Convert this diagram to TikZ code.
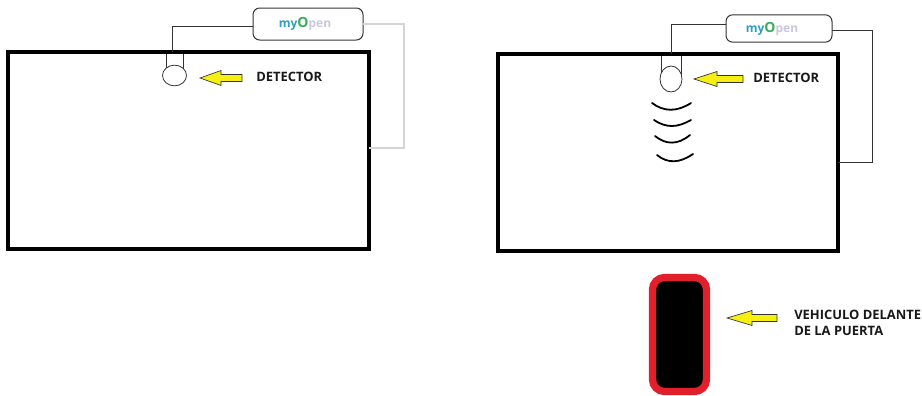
\documentclass[tikz,border=0pt]{standalone}
\usepackage{fontspec}
\setmainfont{Open Sans}
\usetikzlibrary{shapes.geometric,calc}
\definecolor{myteal}{HTML}{2E9FC0}
\definecolor{mygreen}{HTML}{3DAA5C}
\definecolor{mylav}{HTML}{C9C8E0}
\definecolor{wiregrey}{HTML}{D4D4D4}
\definecolor{thinblack}{HTML}{333333}
\definecolor{carred}{HTML}{E2202C}
\definecolor{arrowyellow}{HTML}{F7EE12}
\tikzset{
  px/.style={x=0.75pt,y=-0.75pt},
  room/.style={draw=black,line width=3pt,fill=white,inner sep=0pt,outer sep=0pt},
  ctrl/.style={draw=thinblack,line width=0.75pt,rounded corners=5pt,inner sep=0pt,outer sep=0pt,minimum height=24pt,fill=white},
  brand/.style={font=\bfseries\fontsize{9pt}{10pt}\selectfont},
  wire/.style={draw=thinblack,line width=0.75pt},
  greywire/.style={draw=wiregrey,line width=0.9pt},
  sensor/.style={ellipse,draw=thinblack,line width=0.6pt,fill=white,inner sep=0pt,outer sep=0pt},
  pointer/.style={draw=thinblack,line width=0.5pt,fill=arrowyellow},
  lab/.style={font=\bfseries\fontsize{9.7pt}{12pt}\selectfont,inner sep=0pt,anchor=west,align=left,text=black!90},
  wave/.style={draw=black,line width=1.35pt,line cap=round}
}
\newcommand{\myopen}{{\color{myteal}my}{\color{mygreen}\fontsize{10.5pt}{10pt}\selectfont O}{\color{mylav}pen}}
% tip x, neck x, tail x, y
\newcommand{\yarrow}[4]{\draw[pointer] (#1,#4) -- (#2,#4-7.5) -- (#2,#4-3.5) -- (#3,#4-3.5) -- (#3,#4+3.5) -- (#2,#4+3.5) -- (#2,#4+7.5) -- cycle;}
\begin{document}
\begin{tikzpicture}[px]
\useasboundingbox[fill=white] (0,0) rectangle (922,396);
% left
\node[room,minimum width=270.75pt,minimum height=147.75pt] (roomA) at (188.5,150.5) {};
\node[ctrl,minimum width=82.5pt] (boxA) at (308,24) {};
\node[brand] (textA) at (305,24) {\myopen};
\coordinate (cornerA) at (172.5,26);
\draw[wire] (boxA.west |- cornerA) -- (cornerA) -- (cornerA |- roomA.north);
\coordinate (gA1) at (404,24);
\coordinate (gA2) at (404,148);
\draw[greywire] (boxA.east |- gA1) -- (gA1) -- (gA2) -- (roomA.east |- gA2);
\draw[wire,line width=0.6pt] (166,54) -- (166,69) (183,54) -- (183,69);
\node[sensor,minimum width=18pt,minimum height=15.5pt] (senseA) at (174.5,75.5) {};
\yarrow{200}{221}{242}{78}
\node[lab] (labA) at (256,76.5) {DETECTOR};
% right
\node[room,minimum width=255pt,minimum height=147.75pt] (roomB) at (667.5,152.5) {};
\node[ctrl,minimum width=79.5pt,minimum height=20.5pt] (boxB) at (779,28.5) {};
\node[brand] (textB) at (772,29) {\myopen};
\coordinate (cornerB) at (671,24);
\draw[wire] (boxB.west |- cornerB) -- (cornerB) -- (cornerB |- roomB.north);
\coordinate (gB1) at (872,30);
\coordinate (gB2) at (872,162);
\draw[wire] (boxB.east |- gB1) -- (gB1) -- (gB2) -- (roomB.east |- gB2);
\draw[wire,line width=0.6pt] (661,56) -- (661,76) (681,56) -- (681,76);
\node[sensor,minimum width=16.5pt,minimum height=19.5pt] (senseB) at (671,79) {};
\yarrow{694}{717}{743}{79}
\node[lab] (labB) at (753,78) {DETECTOR};
\draw[wave] (652,103) .. controls (664,112) and (677,112) .. (691,103);
\draw[wave] (654,120) .. controls (666,128) and (677,128) .. (691,120);
\draw[wave] (655,136) .. controls (666,145) and (678,145) .. (690,135);
\draw[wave] (657,155) .. controls (668,164) and (680,163) .. (693,154);
% vehicle
\node[draw=carred,line width=5.5pt,fill=black,rounded corners=9pt,inner sep=0pt,outer sep=0pt,minimum width=40.5pt,minimum height=85.5pt] (car) at (679.5,334.5) {};
\yarrow{727}{752}{777}{318}
\node[lab] (labC) at (794,323) {VEHICULO DELANTE\\DE LA PUERTA};
\end{tikzpicture}
\end{document}
